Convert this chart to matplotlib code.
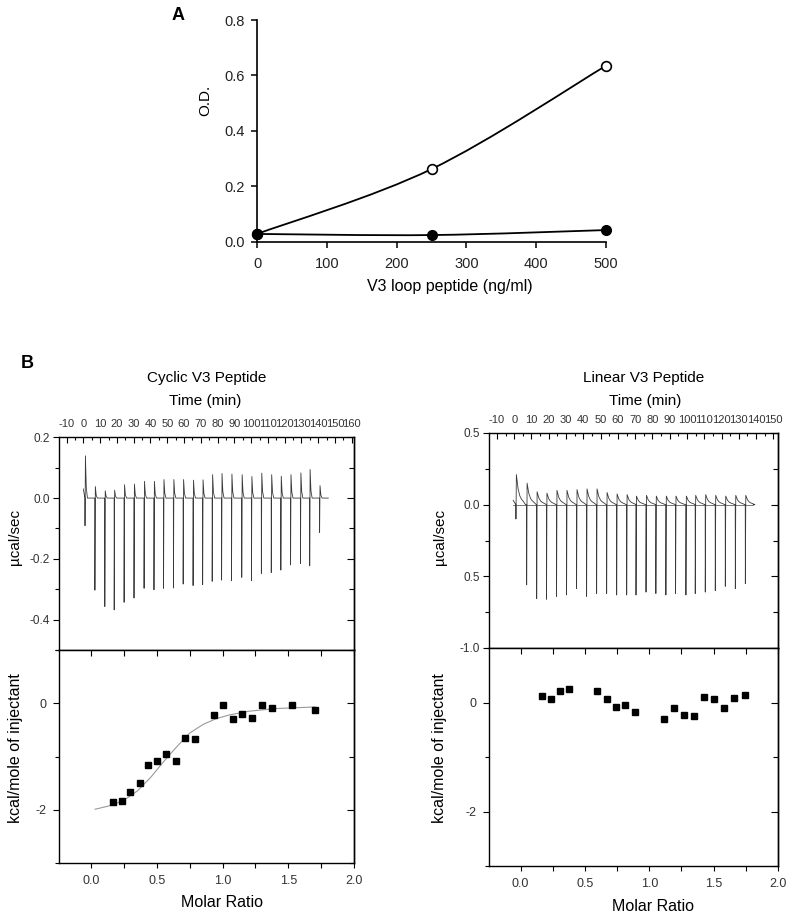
import matplotlib
matplotlib.use('Agg')
from matplotlib import pyplot as plt
from matplotlib.path import Path
from matplotlib.patches import PathPatch
from matplotlib.ticker import MultipleLocator, FixedLocator

plt.rcParams['font.family'] = ['Liberation Sans', 'DejaVu Sans']
plt.rcParams['axes.unicode_minus'] = False

# ---------------- panel A: O.D. vs peptide -------------------
peptide_ng = [0, 250, 500]
od_open = [0.028, 0.262, 0.635]
od_filled = [0.028, 0.024, 0.042]

# ---------------- panel B: ITC raw traces -------------------
# cyclic V3 peptide: injection time (min), peak above / below baseline (ucal/sec)
cyc_time = [1.0, 6.9, 12.8, 18.4, 24.3, 30.2, 36.2, 42.1, 47.8, 53.7, 59.5, 65.4, 71.1,
            76.8, 82.4, 88.3, 94.4, 100.2, 106.1, 112.0, 117.7, 123.5, 129.4, 134.9, 140.8]
cyc_up = [0.139, 0.038, 0.024, 0.026, 0.044, 0.046, 0.055, 0.055, 0.061, 0.061, 0.061, 0.059, 0.060,
          0.077, 0.081, 0.079, 0.077, 0.071, 0.082, 0.077, 0.072, 0.077, 0.083, 0.094, 0.041]
cyc_down = [-0.091, -0.303, -0.357, -0.368, -0.343, -0.329, -0.297, -0.302, -0.297, -0.296, -0.283,
            -0.288, -0.285, -0.274, -0.270, -0.272, -0.261, -0.272, -0.248, -0.245, -0.237, -0.220,
            -0.215, -0.223, -0.113]
cyc_start = (0.0, 0.03)
cyc_end = 146.0

# linear V3 peptide
lin_time = [1.0, 7.2, 13.0, 18.7, 24.5, 30.3, 36.1, 41.9, 47.7, 53.5, 59.3, 65.1, 70.5,
            76.3, 82.0, 87.8, 93.4, 99.4, 104.8, 110.6, 116.4, 122.2, 128.0, 133.8]
lin_up = [0.21, 0.15, 0.09, 0.08, 0.10, 0.10, 0.105, 0.11, 0.11, 0.085, 0.075, 0.07,
          0.06, 0.065, 0.06, 0.06, 0.06, 0.06, 0.065, 0.07, 0.065, 0.06, 0.065, 0.065]
lin_down = [-0.10, -0.56, -0.655, -0.66, -0.64, -0.63, -0.585, -0.64, -0.62, -0.62, -0.63, -0.63,
            -0.63, -0.61, -0.62, -0.63, -0.62, -0.63, -0.62, -0.61, -0.60, -0.57, -0.585, -0.55]
lin_start = (-0.6, 0.03)
lin_end = 138.4

# shape of the signal after each peak (time after peak, fraction of peak)
cyc_decay_t = [0, 0.5, 1.2]
cyc_decay_f = [1, 0.25, 0]
lin_decay_t = [0, 1, 2, 3, 4, 5.3]
lin_decay_f = [1, 0.52, 0.29, 0.18, 0.11, 0]

# ---------------- panel B: integrated heats -------------------
cyc_ratio = [0.165, 0.233, 0.299, 0.368, 0.436, 0.504, 0.573, 0.644, 0.717, 0.788,
             0.933, 1.004, 1.077, 1.151, 1.224, 1.298, 1.376, 1.526, 1.706]
cyc_heat = [-1.85, -1.84, -1.66, -1.49, -1.16, -1.09, -0.96, -1.09, -0.66, -0.67,
            -0.23, -0.04, -0.30, -0.21, -0.28, -0.03, -0.08, -0.03, -0.125]
cyc_fit_x = [0.03, 0.15, 0.25, 0.35, 0.45, 0.55, 0.65, 0.75, 0.85, 0.95, 1.05, 1.2, 1.4, 1.7]
cyc_fit_y = [-1.99, -1.92, -1.82, -1.65, -1.40, -1.10, -0.82, -0.56, -0.40, -0.29, -0.22,
             -0.15, -0.10, -0.07]

lin_ratio = [0.166, 0.236, 0.306, 0.379, 0.595, 0.668, 0.740, 0.813, 0.888,
             1.117, 1.195, 1.270, 1.348, 1.426, 1.501, 1.579, 1.662, 1.743]
lin_heat = [0.117, 0.062, 0.203, 0.240, 0.215, 0.062, -0.080, -0.055, -0.178,
            -0.300, -0.098, -0.234, -0.252, 0.098, 0.068, -0.105, 0.074, 0.129]

W, H = 792, 916
TICK_COLOR = '#333333'


def fig_box(left, top, right, bottom):
    """pixel box -> figure fraction rect"""
    return [left / W, 1 - bottom / H, (right - left) / W, (bottom - top) / H]


def smooth_path(xs, ys):
    """catmull-rom through the data points, as cubic bezier"""
    pts = list(zip(xs, ys))
    verts = [pts[0]]
    codes = [Path.MOVETO]
    n = len(pts)
    for i in range(n - 1):
        p0 = pts[max(i - 1, 0)]
        p1 = pts[i]
        p2 = pts[i + 1]
        p3 = pts[min(i + 2, n - 1)]
        c1 = (p1[0] + (p2[0] - p0[0]) / 6, p1[1] + (p2[1] - p0[1]) / 6)
        c2 = (p2[0] - (p3[0] - p1[0]) / 6, p2[1] - (p3[1] - p1[1]) / 6)
        verts += [c1, c2, p2]
        codes += [Path.CURVE4] * 3
    return Path(verts, codes)


def build_trace(start, end, times, ups, downs, decay_t, decay_f):
    xs = [start[0]]
    ys = [start[1]]
    for t, u, d in zip(times, ups, downs):
        xs += [t - 0.05, t]
        ys += [0, d]
        for dt, f in zip(decay_t, decay_f):
            xs.append(t + 0.25 + dt)
            ys.append(u * f)
    xs.append(end)
    ys.append(0)
    return xs, ys


def style_right(ax, major, minor):
    sec = ax.secondary_yaxis('right')
    sec.yaxis.set_major_locator(FixedLocator(major))
    sec.yaxis.set_minor_locator(FixedLocator(minor))
    sec.tick_params(which='major', direction='in', length=5, width=0.8, labelright=False)
    sec.tick_params(which='minor', direction='in', length=3.5, width=0.8)
    sec.spines['right'].set_linewidth(1.0)


def style_upper(ax, xmax_label):
    ax.xaxis.set_ticks_position('top')
    ax.set_xticks(range(-10, xmax_label + 1, 10))
    ax.xaxis.set_minor_locator(MultipleLocator(5))
    ax.tick_params(axis='x', which='both', direction='in', top=True, bottom=False,
                   labeltop=True, labelbottom=False, labelsize=8, pad=6,
                   labelcolor=TICK_COLOR, width=0.8)
    ax.tick_params(axis='x', which='major', length=4)
    ax.tick_params(axis='x', which='minor', length=2.5)
    ax.tick_params(axis='y', which='both', direction='out', labelsize=8.5, pad=2,
                   labelcolor=TICK_COLOR, width=0.8)
    ax.tick_params(axis='y', which='major', length=4.5)
    ax.tick_params(axis='y', which='minor', length=3)
    for s in ax.spines.values():
        s.set_linewidth(1.0)


def style_lower(ax):
    ax.set_xlim(-0.245, 2.0)
    ax.set_ylim(-3, 1)
    ax.set_xticks([0.0, 0.5, 1.0, 1.5, 2.0])
    ax.set_xticklabels(['0.0', '0.5', '1.0', '1.5', '2.0'])
    ax.xaxis.set_minor_locator(FixedLocator([-0.25, 0.25, 0.75, 1.25, 1.75]))
    ax.set_yticks([-2, 0])
    ax.set_yticklabels(['-2', '0'])
    ax.yaxis.set_minor_locator(FixedLocator([-3, -1, 1]))
    ax.tick_params(which='both', direction='out', labelsize=9, labelcolor=TICK_COLOR, width=0.8)
    ax.tick_params(axis='x', which='both', length=3.5, pad=5)
    ax.tick_params(axis='y', which='major', length=4, pad=5)
    ax.tick_params(axis='y', which='minor', length=3)
    top = ax.secondary_xaxis('top')
    top.xaxis.set_major_locator(FixedLocator([0.0, 0.5, 1.0, 1.5, 2.0]))
    top.xaxis.set_minor_locator(FixedLocator([0.25, 0.75, 1.25, 1.75]))
    top.tick_params(which='both', direction='in', length=4, width=0.8, labeltop=False)
    style_right(ax, [-2, 0], [-3, -1, 1])
    for s in ax.spines.values():
        s.set_linewidth(1.0)


fig = plt.figure(figsize=(W / 100, H / 100), dpi=100)

# ---------------- A ----------------
axA = fig.add_axes(fig_box(257, 20, 606, 241.7))
for xs, ys in [(peptide_ng, od_open), (peptide_ng, od_filled)]:
    axA.add_patch(PathPatch(smooth_path(xs, ys), facecolor='none', edgecolor='black',
                            linewidth=1.3, clip_on=False))
axA.plot(peptide_ng, od_open, 'o', color='black', markerfacecolor='white',
         markersize=7, markeredgewidth=1.2, clip_on=False, zorder=3)
axA.plot(peptide_ng, od_filled, 'o', color='black', markersize=7, clip_on=False, zorder=3)
axA.set_xlim(0, 500)
axA.set_ylim(0, 0.8)
axA.set_xticks([0, 100, 200, 300, 400, 500])
axA.set_yticks([0.0, 0.2, 0.4, 0.6, 0.8])
axA.set_yticklabels(['0.0', '0.2', '0.4', '0.6', '0.8'])
axA.spines['top'].set_visible(False)
axA.spines['right'].set_visible(False)
axA.spines['left'].set_linewidth(1.2)
axA.spines['bottom'].set_linewidth(1.2)
axA.tick_params(direction='out', length=4, width=1.1, labelsize=10.5, labelcolor='#222222')
axA.tick_params(axis='x', pad=7)
axA.tick_params(axis='y', pad=5)
axA.set_ylabel('O.D.', fontsize=11, va='center')
axA.yaxis.set_label_coords(-0.149, 0.639)
axA.set_xlabel('V3 loop peptide (ng/ml)', fontsize=11.5, va='center')
axA.xaxis.set_label_coords(0.553, -0.204)
fig.text(178 / W, 1 - 15 / H, 'A', fontsize=13, fontweight='bold', ha='center', va='center')

# ---------------- B, cyclic ----------------
ax_cu = fig.add_axes(fig_box(59, 437.3, 354, 650))
xs, ys = build_trace(cyc_start, cyc_end, cyc_time, cyc_up, cyc_down, cyc_decay_t, cyc_decay_f)
ax_cu.plot(xs, ys, color='#3a3a3a', linewidth=0.6)
ax_cu.set_xlim(-14.5, 161.3)
ax_cu.set_ylim(-0.5, 0.2)
ax_cu.set_yticks([-0.4, -0.2, 0.0, 0.2])
ax_cu.set_yticklabels(['-0.4', '-0.2', '0.0', '0.2'])
ax_cu.yaxis.set_minor_locator(FixedLocator([-0.5, -0.3, -0.1, 0.1]))
style_upper(ax_cu, 160)
style_right(ax_cu, [-0.4, -0.2, 0.0, 0.2], [-0.3, -0.1, 0.1])
ax_cu.set_ylabel('\u00b5cal/sec', fontsize=11, va='center')
ax_cu.yaxis.set_label_coords(-0.149, 0.533)

ax_cl = fig.add_axes(fig_box(59, 650, 354, 863))
ax_cl.plot(cyc_fit_x, cyc_fit_y, color='#999999', linewidth=0.8)
ax_cl.plot(cyc_ratio, cyc_heat, 's', color='black', markersize=5)
style_lower(ax_cl)
ax_cl.set_ylabel('kcal/mole of injectant', fontsize=11.5, va='center')
ax_cl.yaxis.set_label_coords(-0.149, 0.54)
ax_cl.set_xlabel('Molar Ratio', fontsize=11.5, va='center')
ax_cl.xaxis.set_label_coords(0.552, -0.186)

fig.text(207 / W, 1 - 378 / H, 'Cyclic V3 Peptide', fontsize=11, ha='center', va='center')
fig.text(205 / W, 1 - 401 / H, 'Time (min)', fontsize=11, ha='center', va='center')
fig.text(27 / W, 1 - 363 / H, 'B', fontsize=13, fontweight='bold', ha='center', va='center')

# ---------------- B, linear ----------------
ax_lu = fig.add_axes(fig_box(489, 433, 778, 648))
xs, ys = build_trace(lin_start, lin_end, lin_time, lin_up, lin_down, lin_decay_t, lin_decay_f)
ax_lu.plot([lin_start[0], lin_end], [0, 0], color='#444444', linewidth=0.5)
ax_lu.plot(xs, ys, color='#3a3a3a', linewidth=0.6)
ax_lu.set_xlim(-14.6, 152.7)
ax_lu.set_ylim(-1.0, 0.5)
ax_lu.set_yticks([-1.0, -0.5, 0.0, 0.5])
ax_lu.set_yticklabels(['-1.0', '0.5', '0.0', '0.5'])
ax_lu.yaxis.set_minor_locator(FixedLocator([-0.75, -0.25, 0.25]))
style_upper(ax_lu, 150)
style_right(ax_lu, [-0.5, 0.0, 0.5], [-0.75, -0.25, 0.25])
ax_lu.set_ylabel('\u00b5cal/sec', fontsize=11, va='center')
ax_lu.yaxis.set_label_coords(-0.170, 0.518)

ax_ll = fig.add_axes(fig_box(489, 648, 778, 866))
ax_ll.plot(lin_ratio, lin_heat, 's', color='black', markersize=5)
style_lower(ax_ll)
ax_ll.set_ylabel('kcal/mole of injectant', fontsize=11.5, va='center')
ax_ll.yaxis.set_label_coords(-0.172, 0.541)
ax_ll.set_xlabel('Molar Ratio', fontsize=11.5, va='center')
ax_ll.xaxis.set_label_coords(0.569, -0.187)

fig.text(644 / W, 1 - 378 / H, 'Linear V3 Peptide', fontsize=11, ha='center', va='center')
fig.text(645 / W, 1 - 401 / H, 'Time (min)', fontsize=11, ha='center', va='center')

fig.savefig('out.png', dpi=100)
